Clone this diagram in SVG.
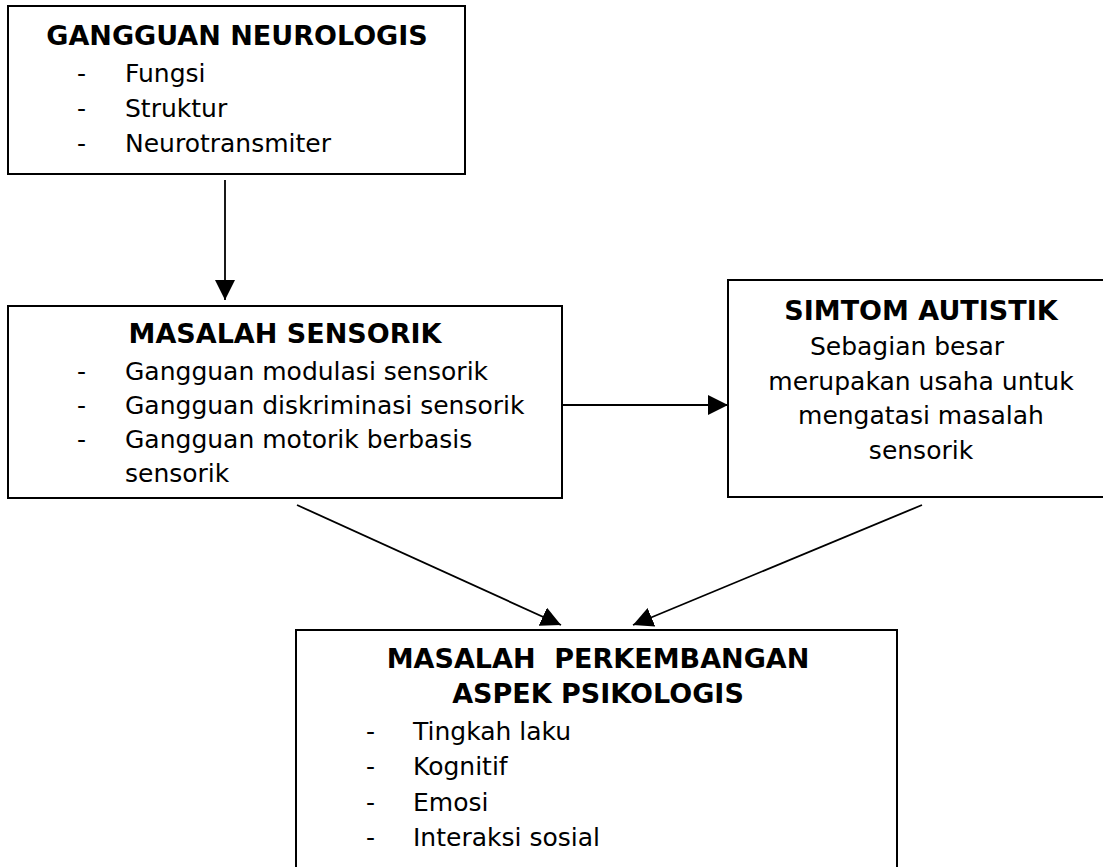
<svg xmlns="http://www.w3.org/2000/svg" width="1103" height="867" viewBox="0 0 1103 867">
<defs>
<marker id="ah" markerUnits="userSpaceOnUse" markerWidth="20" markerHeight="20" refX="20" refY="10" orient="auto">
<path d="M0,0 L20,10 L0,20 z" fill="#000"/>
</marker>
<style>
.box{fill:#fff;stroke:#000;stroke-width:2}
.t{font-family:"DejaVu Sans",Verdana,sans-serif;font-size:25px;fill:#000}
.b{font-family:"DejaVu Sans",Verdana,sans-serif;font-size:27px;font-weight:bold;fill:#000;text-anchor:middle}
.c{text-anchor:middle}
.conn{stroke:#000;stroke-width:1.8;fill:none;marker-end:url(#ah)}
</style>
</defs>
<rect width="1103" height="867" fill="#fff"/>
<g id="connectors">
<line class="conn" x1="225" y1="180" x2="225" y2="300"/>
<line class="conn" x1="562" y1="405" x2="728" y2="405"/>
<line class="conn" x1="297" y1="505" x2="561" y2="625"/>
<line class="conn" x1="922" y1="505" x2="633" y2="625"/>
</g>
<g id="gangguan-neurologis">
<rect class="box" x="8" y="6" width="457" height="168"/>
<text class="b" x="237" y="45">GANGGUAN NEUROLOGIS</text>
<text class="t" x="77" y="82">-</text><text class="t" x="125" y="82">Fungsi</text>
<text class="t" x="77" y="117">-</text><text class="t" x="125" y="117">Struktur</text>
<text class="t" x="77" y="152">-</text><text class="t" x="125" y="152">Neurotransmiter</text>
</g>
<g id="masalah-sensorik">
<rect class="box" x="8" y="306" width="554" height="192"/>
<text class="b" x="285" y="343">MASALAH SENSORIK</text>
<text class="t" x="77" y="380">-</text><text class="t" x="125" y="380">Gangguan modulasi sensorik</text>
<text class="t" x="77" y="414">-</text><text class="t" x="125" y="414">Gangguan diskriminasi sensorik</text>
<text class="t" x="77" y="448">-</text><text class="t" x="125" y="448">Gangguan motorik berbasis</text>
<text class="t" x="125" y="482">sensorik</text>
</g>
<g id="simtom-autistik">
<rect class="box" x="728" y="280" width="390" height="217"/>
<text class="b" x="921" y="320">SIMTOM AUTISTIK</text>
<text class="t c" x="907" y="355">Sebagian besar</text>
<text class="t c" x="921" y="390">merupakan usaha untuk</text>
<text class="t c" x="921" y="424">mengatasi masalah</text>
<text class="t c" x="921" y="459">sensorik</text>
</g>
<g id="masalah-perkembangan">
<rect class="box" x="296" y="630" width="601" height="260"/>
<text class="b" x="598" y="668" xml:space="preserve">MASALAH  PERKEMBANGAN</text>
<text class="b" x="598" y="703">ASPEK PSIKOLOGIS</text>
<text class="t" x="366" y="740">-</text><text class="t" x="413" y="740">Tingkah laku</text>
<text class="t" x="366" y="775">-</text><text class="t" x="413" y="775">Kognitif</text>
<text class="t" x="366" y="811">-</text><text class="t" x="413" y="811">Emosi</text>
<text class="t" x="366" y="846">-</text><text class="t" x="413" y="846">Interaksi sosial</text>
</g>
</svg>
